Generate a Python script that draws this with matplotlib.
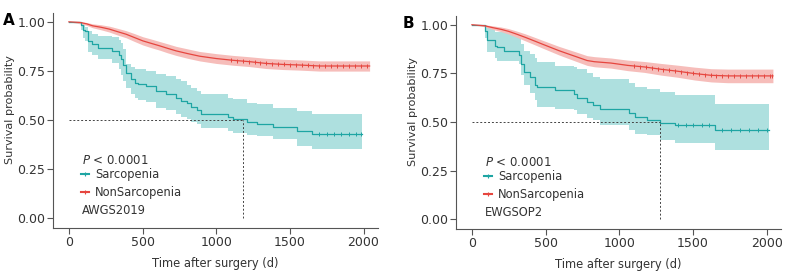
import numpy as np
import matplotlib
matplotlib.use("Agg")
import matplotlib.pyplot as plt
from matplotlib.lines import Line2D

plt.rcParams['font.family'] = ['DejaVu Sans']

# ---- panel A (AWGS2019) ----
tA_sar = [0, 80, 95, 108, 131, 155, 200, 290, 340, 355, 370, 390, 425, 448, 470, 525, 593, 661,
          729, 760, 800, 830, 870, 900, 1082, 1116, 1207, 1275, 1388, 1546, 1648, 1991]
sA_sar = [1.0, 0.985, 0.96, 0.954, 0.903, 0.886, 0.869, 0.852, 0.83, 0.81, 0.78, 0.741, 0.707, 0.69,
          0.682, 0.673, 0.648, 0.631, 0.61, 0.597, 0.585, 0.565, 0.55, 0.529, 0.515, 0.503, 0.491,
          0.481, 0.464, 0.444, 0.43, 0.43]
uA_sar = [1.0, 1.0, 0.99, 0.975, 0.955, 0.94, 0.93, 0.925, 0.91, 0.89, 0.86, 0.784, 0.77, 0.76,
          0.759, 0.75, 0.735, 0.724, 0.71, 0.699, 0.68, 0.665, 0.65, 0.631, 0.614, 0.605, 0.588,
          0.58, 0.563, 0.546, 0.529, 0.529]
lA_sar = [1.0, 0.96, 0.92, 0.90, 0.845, 0.83, 0.81, 0.79, 0.76, 0.73, 0.70, 0.665, 0.63, 0.614,
          0.60, 0.59, 0.563, 0.55, 0.53, 0.515, 0.503, 0.49, 0.478, 0.46, 0.444, 0.435, 0.425,
          0.418, 0.401, 0.367, 0.35, 0.35]
cA_sar = [1700, 1750, 1800, 1850, 1900, 1950, 1985]

tA_non = [0, 75, 120, 160, 220, 274, 330, 388, 445, 502, 560, 615, 670, 728, 807, 887, 1000,
          1114, 1227, 1340, 1453, 1566, 1702, 2041]
sA_non = [1.0, 0.997, 0.99, 0.98, 0.972, 0.963, 0.95, 0.937, 0.92, 0.903, 0.89, 0.878, 0.865,
          0.852, 0.838, 0.825, 0.813, 0.804, 0.797, 0.788, 0.783, 0.78, 0.775, 0.775]
uA_non = [1.0, 1.0, 0.997, 0.99, 0.985, 0.978, 0.967, 0.955, 0.94, 0.924, 0.912, 0.9, 0.888,
          0.875, 0.862, 0.849, 0.838, 0.829, 0.822, 0.814, 0.809, 0.806, 0.801, 0.801]
lA_non = [1.0, 0.99, 0.982, 0.97, 0.959, 0.948, 0.933, 0.919, 0.9, 0.882, 0.868, 0.856, 0.842,
          0.829, 0.814, 0.801, 0.788, 0.779, 0.772, 0.762, 0.757, 0.754, 0.749, 0.749]
cA_non = [1100, 1140, 1180, 1220, 1260, 1300, 1340, 1380, 1420, 1460, 1500, 1540, 1580, 1620,
          1660, 1700, 1740, 1780, 1820, 1860, 1900, 1940, 1980, 2020]
medA = 1182

# ---- panel B (EWGSOP2) ----
tB_sar = [0, 88, 104, 159, 170, 215, 318, 330, 352, 397, 431, 442, 567, 692, 714, 780, 825, 871,
          1063, 1108, 1188, 1278, 1380, 1652, 2014]
sB_sar = [1.0, 0.97, 0.922, 0.893, 0.884, 0.867, 0.842, 0.80, 0.757, 0.731, 0.689, 0.68, 0.663,
          0.646, 0.621, 0.604, 0.587, 0.565, 0.544, 0.527, 0.51, 0.497, 0.485, 0.459, 0.459]
uB_sar = [1.0, 1.0, 0.985, 0.965, 0.962, 0.96, 0.955, 0.90, 0.867, 0.85, 0.83, 0.808, 0.79,
          0.785, 0.775, 0.75, 0.73, 0.72, 0.70, 0.68, 0.672, 0.655, 0.64, 0.595, 0.595]
lB_sar = [1.0, 0.93, 0.86, 0.83, 0.816, 0.816, 0.80, 0.74, 0.689, 0.65, 0.612, 0.578, 0.565,
          0.561, 0.54, 0.519, 0.51, 0.485, 0.46, 0.44, 0.434, 0.408, 0.39, 0.357, 0.357]
cB_sar = [1400, 1450, 1500, 1560, 1610, 1700, 1760, 1820, 1880, 1940, 2000]

tB_non = [0, 84, 136, 200, 249, 306, 363, 420, 476, 533, 590, 646, 703, 782, 831, 944, 1058,
          1171, 1284, 1397, 1511, 1624, 1737, 2043]
sB_non = [1.0, 0.995, 0.986, 0.976, 0.966, 0.951, 0.935, 0.918, 0.901, 0.884, 0.867, 0.852,
          0.837, 0.816, 0.81, 0.803, 0.791, 0.783, 0.771, 0.761, 0.749, 0.74, 0.737, 0.737]
uB_non = [1.0, 1.0, 0.995, 0.988, 0.98, 0.967, 0.953, 0.937, 0.921, 0.905, 0.889, 0.875, 0.861,
          0.841, 0.836, 0.829, 0.818, 0.811, 0.801, 0.792, 0.782, 0.774, 0.772, 0.772]
lB_non = [1.0, 0.99, 0.977, 0.964, 0.952, 0.935, 0.917, 0.899, 0.881, 0.863, 0.845, 0.829, 0.813,
          0.791, 0.784, 0.777, 0.764, 0.755, 0.741, 0.73, 0.716, 0.706, 0.702, 0.702]
cB_non = [1100, 1140, 1180, 1220, 1260, 1300, 1340, 1380, 1420, 1460, 1500, 1540, 1580, 1620,
          1660, 1700, 1740, 1780, 1820, 1860, 1900, 1940, 1980, 2020, 2040]
medB = 1277

teal, teal_fill = '#1ea5a3', '#aee0df'
red, red_fill = '#e6463f', '#f6bdba'
axcol = '#555555'
txt = '#333333'


def at(t, times, surv):
    idx = np.searchsorted(times, t, side='right') - 1
    return np.asarray(surv)[idx]


def panel(ax, t_s, s_s, u_s, l_s, c_s, t_n, s_n, u_n, l_n, c_n, med, tag):
    ax.fill_between(t_s, l_s, u_s, step='post', color=teal_fill, lw=0)
    ax.fill_between(t_n, l_n, u_n, color=red_fill, lw=0)
    ax.step(t_s, s_s, where='post', color=teal, lw=0.9)
    ax.plot(t_n, s_n, color=red, lw=0.9)
    ax.plot(c_s, at(c_s, t_s, s_s), ls='none', marker='|', ms=3, mew=0.7, color=teal)
    ax.plot(c_n, np.interp(c_n, t_n, s_n), ls='none', marker='|', ms=3, mew=0.7, color=red)
    ax.plot([0, med], [0.5, 0.5], color='#444444', lw=0.7, ls=(0, (2, 2)))
    ax.plot([med, med], [0, 0.5], color='#444444', lw=0.7, ls=(0, (2, 2)))

    ax.set_xlim(-108, 2098)
    ax.set_ylim(-0.05, 1.045)
    ax.set_xticks([0, 500, 1000, 1500, 2000])
    ax.set_yticks([0, 0.25, 0.5, 0.75, 1.0])
    ax.set_yticklabels(['0.00', '0.25', '0.50', '0.75', '1.00'])
    for s in ['top', 'right']:
        ax.spines[s].set_visible(False)
    for s in ['left', 'bottom']:
        ax.spines[s].set_color(axcol)
        ax.spines[s].set_linewidth(0.8)
    ax.tick_params(colors=axcol, labelcolor=txt, labelsize=9, length=4, width=0.8, pad=1.5)
    ax.set_xlabel('Time after surgery (d)', fontsize=8.3, color=txt)
    ax.set_ylabel('Survival probability', fontsize=8.1, color=txt)
    ax.xaxis.set_label_coords(0.5, -0.135)
    ax.yaxis.set_label_coords(-0.117, 0.553)

    ax.text(0.089, 0.312, r'$\mathit{P}$ < 0.0001', transform=ax.transAxes,
            fontsize=8.5, color=txt, va='center')
    handles = [Line2D([], [], color=teal, lw=1.5, marker='+', ms=3, mew=0.8),
               Line2D([], [], color=red, lw=1.5, marker='+', ms=3, mew=0.8)]
    ax.legend(handles, ['Sarcopenia', 'NonSarcopenia'], loc='upper left',
              bbox_to_anchor=(0.085, 0.277), frameon=False, fontsize=8.3,
              handlelength=0.7, handletextpad=0.55, labelspacing=0.4,
              borderpad=0, borderaxespad=0, labelcolor=txt)
    ax.text(0.089, 0.079, tag, transform=ax.transAxes, fontsize=8.3,
            color=txt, va='center')


fig = plt.figure(figsize=(7.87, 2.71), dpi=100)
axA = fig.add_axes([0.0673, 0.159, 0.413, 0.793])
axB = fig.add_axes([0.5794, 0.155, 0.413, 0.786])

panel(axA, tA_sar, sA_sar, uA_sar, lA_sar, cA_sar, tA_non, sA_non, uA_non, lA_non, cA_non,
      medA, 'AWGS2019')
panel(axB, tB_sar, sB_sar, uB_sar, lB_sar, cB_sar, tB_non, sB_non, uB_non, lB_non, cB_non,
      medB, 'EWGSOP2')

fig.text(0.004, 0.925, 'A', fontsize=11, fontweight='bold', va='center')
fig.text(0.512, 0.915, 'B', fontsize=11, fontweight='bold', va='center')

fig.savefig('out.png', dpi=100)
